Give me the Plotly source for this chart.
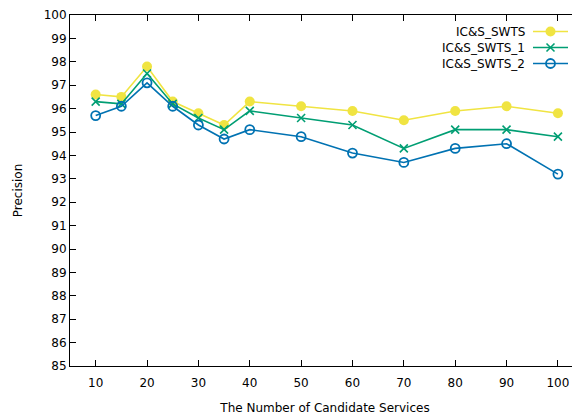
import plotly.graph_objects as go

x_vals = [10, 15, 20, 25, 30, 35, 40, 50, 60, 70, 80, 90, 100]
swts = [96.6, 96.5, 97.8, 96.3, 95.8, 95.3, 96.3, 96.1, 95.9, 95.5, 95.9, 96.1, 95.8]
swts_1 = [96.3, 96.2, 97.5, 96.2, 95.6, 95.1, 95.9, 95.6, 95.3, 94.3, 95.1, 95.1, 94.8]
swts_2 = [95.7, 96.1, 97.1, 96.1, 95.3, 94.7, 95.1, 94.8, 94.1, 93.7, 94.3, 94.5, 93.2]
series_names = ["IC&S_SWTS", "IC&S_SWTS_1", "IC&S_SWTS_2"]
x_ticks = [10, 20, 30, 40, 50, 60, 70, 80, 90, 100]
y_ticks = list(range(85, 101))

colors = ["#f0e442", "#009e73", "#0072b2"]
markers = [
    dict(symbol="circle", size=10, color=colors[0]),
    dict(symbol="x-thin", size=8, line=dict(color=colors[1], width=1.6)),
    dict(symbol="circle-open", size=9, color=colors[2], line=dict(width=1.8)),
]

FONT = "DejaVu Sans"
fig = go.Figure()
for name, ys, col, mk in zip(series_names, [swts, swts_1, swts_2], colors, markers):
    fig.add_trace(go.Scatter(x=x_vals, y=ys, mode="lines+markers", name=name,
                             line=dict(color=col, width=1.6), marker=mk,
                             showlegend=False, cliponaxis=False))

# custom gnuplot-style legend (text right, sample line on the right); coords in page pixels
leg_y = [31.5, 47.5, 63.5]
for i, (name, col, mk) in enumerate(zip(series_names, colors, markers)):
    fig.add_trace(go.Scatter(x=[533, 550.5, 568], y=[leg_y[i]] * 3, xaxis="x2", yaxis="y3",
                             mode="lines", line=dict(color=col, width=1.6),
                             showlegend=False, hoverinfo="skip"))
    fig.add_trace(go.Scatter(x=[550.5], y=[leg_y[i]], xaxis="x2", yaxis="y3",
                             mode="markers", marker=mk, showlegend=False, hoverinfo="skip"))
    fig.add_annotation(x=527, y=leg_y[i], xref="x2", yref="y3", text=name, showarrow=False,
                       xanchor="right", yanchor="middle", font=dict(family=FONT, size=12, color="black"))

fig.update_layout(
    width=572, height=408,
    margin=dict(l=62, r=0, t=7, b=50),
    paper_bgcolor="white", plot_bgcolor="white",
    font=dict(family=FONT, size=12, color="black"),
    xaxis=dict(range=[5, 104.3], tickvals=x_ticks, ticks="inside", ticklen=6, tickcolor="black",
               showline=True, linecolor="black", linewidth=1, mirror="ticks", showgrid=False,
               zeroline=False, ticklabelstandoff=6,
               title=dict(text="The Number of Candidate Services", standoff=14, font=dict(size=12))),
    yaxis=dict(range=[85, 100], tickvals=y_ticks, ticks="inside", ticklen=6, tickcolor="black",
               showline=True, linecolor="black", linewidth=1, mirror=False, showgrid=False,
               zeroline=False, title=dict(text="Precision", standoff=18, font=dict(size=12))),
    yaxis2=dict(overlaying="y", side="right", anchor="x", range=[85, 100], tickvals=y_ticks,
                ticks="inside", ticklen=4, tickcolor="black", showticklabels=False,
                showline=False, showgrid=False, zeroline=False),
    xaxis2=dict(overlaying="x", range=[70, 580], visible=False, fixedrange=True),
    yaxis3=dict(overlaying="y", range=[366, 15], visible=False, fixedrange=True, anchor="x2"),
)

fig.write_html("out.html")
